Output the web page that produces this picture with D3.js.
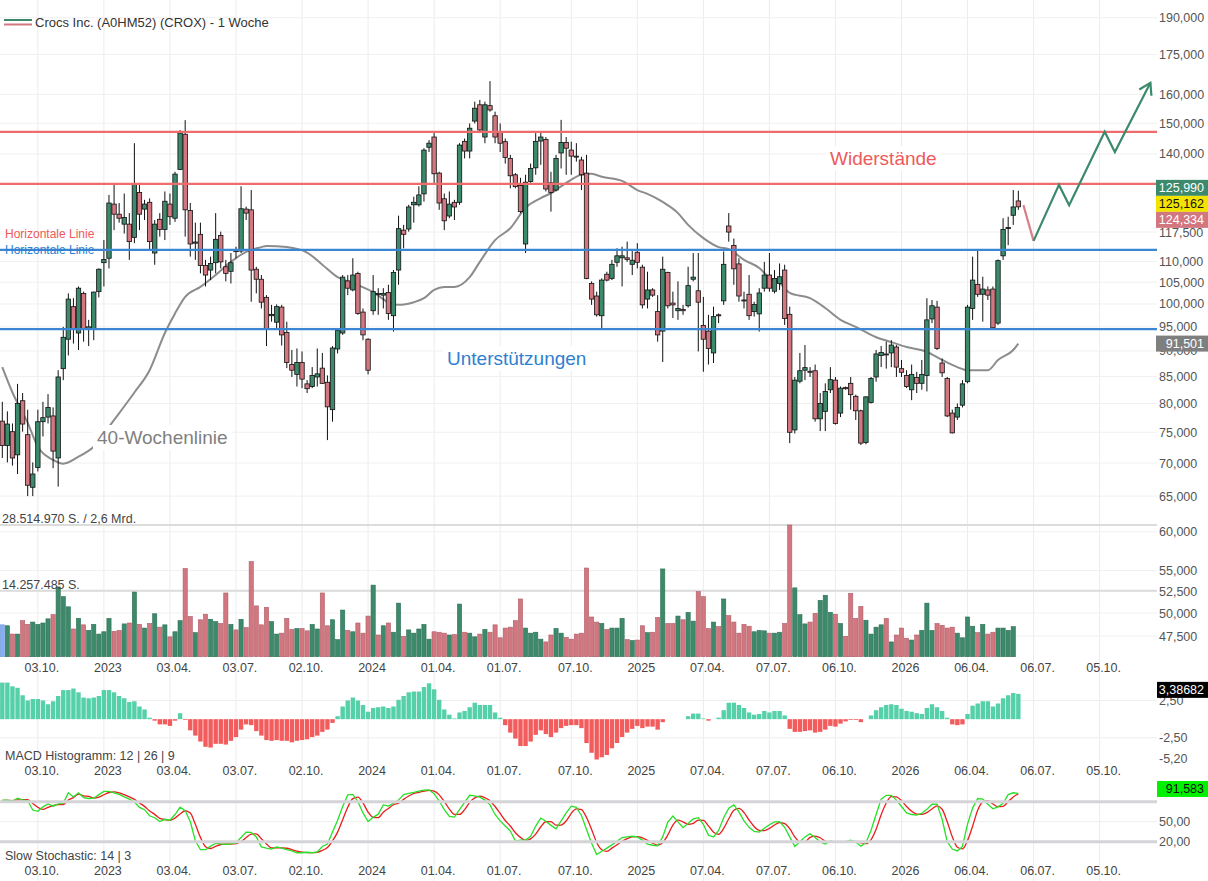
<!DOCTYPE html>
<html>
<head>
<meta charset="utf-8">
<script src="https://cdn.jsdelivr.net/npm/d3@7"></script>
<style>
  body { margin: 0; background: #fff; }
  svg text { font-family: "Liberation Sans", Arial, sans-serif; }
</style>
</head>
<body>
<div id="chart"></div>
<script>
// ---- data (weekly, first candle = week of 15.08.2022) ----
const title = "Crocs Inc. (A0HM52) (CROX) - 1 Woche";
const firstWeek = new Date(2022, 7, 15);

const open = [
  76.9, 72.8, 75.1, 71.3, 80.5, 74.6, 66.3, 69.3, 76.8, 77.6,
  77.8, 70.8, 86.5, 92.4, 99.4, 93.7, 102.4, 94.6, 94.6, 102.8,
  109.7, 110.8, 125.1, 122.3, 119.6, 119.6, 116.1, 128.4, 123.7, 125.6,
  112.1, 120.9, 118.2, 125.1, 121.2, 135.2, 146.3, 123.3, 114.6, 116.9,
  109.0, 107.9, 109.7, 116.6, 108.7, 107.6, 112.7, 112.6, 123.7, 123.5,
  108.1, 105.7, 101.5, 97.4, 96.0, 99.3, 93.8, 87.3, 85.4, 87.7,
  83.6, 83.1, 84.9, 86.6, 83.9, 78.9, 90.4, 93.7, 105.3, 103.2,
  107.1, 98.2, 92.4, 98.5, 102.4, 102.0, 102.6, 97.4, 107.9, 118.0,
  118.3, 124.9, 124.9, 128.0, 142.1, 145.4, 134.1, 126.6, 121.8, 125.6,
  125.6, 144.0, 140.9, 150.7, 156.3, 145.4, 156.0, 152.5, 147.0, 143.9,
  138.6, 133.6, 130.4, 114.4, 131.6, 135.7, 144.1, 144.6, 131.2, 129.1,
  140.3, 143.6, 141.2, 139.3, 138.1, 134.1, 104.7, 101.8, 97.4, 106.9,
  105.9, 109.8, 110.9, 110.9, 109.3, 112.3, 108.6, 101.1, 103.2, 98.3,
  94.1, 107.3, 100.2, 98.5, 98.8, 99.6, 105.7, 103.0, 95.3, 94.1,
  89.6, 97.6, 100.7, 119.1, 114.0, 109.4, 100.9, 102.2, 98.3, 97.8,
  103.6, 106.7, 102.9, 104.7, 107.9, 97.7, 75.4, 84.1, 86.2, 86.0,
  86.1, 77.3, 78.6, 82.5, 84.3, 78.3, 82.9, 83.7, 81.3, 78.7,
  73.3, 80.2, 84.9, 89.1, 89.4, 89.6, 90.8, 86.5, 85.2, 82.5,
  84.8, 83.7, 85.2, 96.7, 99.3, 87.6, 84.6, 78.3, 77.6, 79.7,
  84.0, 99.0, 104.5, 102.2, 103.2, 103.4, 95.8, 111.4, 118.4, 122.0,
  125.99
];
const high = [
  80.3, 78.6, 76.5, 83.6, 81.9, 78.9, 70.1, 78.9, 80.3, 81.7,
  79.3, 86.2, 95.0, 102.4, 101.3, 104.0, 102.8, 96.5, 102.8, 108.3,
  115.4, 127.7, 130.6, 125.4, 128.1, 122.6, 143.4, 131.2, 126.3, 126.7,
  120.7, 122.6, 128.7, 128.1, 134.5, 147.7, 151.0, 125.4, 120.0, 120.0,
  110.4, 111.2, 122.6, 117.6, 110.4, 112.1, 113.7, 130.2, 124.4, 129.1,
  108.7, 106.7, 102.0, 99.8, 99.9, 99.8, 96.1, 90.2, 90.5, 89.9,
  84.3, 86.8, 90.5, 89.6, 85.2, 91.0, 94.6, 106.7, 106.7, 110.8,
  107.5, 99.0, 92.6, 106.7, 103.6, 103.6, 104.4, 107.9, 121.9, 119.4,
  124.9, 127.2, 130.2, 141.8, 144.4, 146.7, 134.5, 128.1, 128.7, 126.3,
  143.4, 144.9, 149.9, 157.4, 158.0, 157.4, 164.8, 153.9, 149.9, 144.9,
  139.7, 134.1, 132.7, 133.6, 137.0, 146.7, 147.0, 145.4, 134.5, 139.7,
  151.1, 145.4, 143.9, 143.4, 139.1, 139.7, 105.2, 102.8, 105.9, 107.5,
  110.4, 113.3, 113.7, 115.0, 112.6, 114.6, 109.2, 107.5, 103.6, 102.0,
  111.2, 107.5, 102.8, 105.2, 99.8, 108.7, 112.1, 112.1, 101.6, 97.6,
  99.4, 97.9, 112.5, 122.6, 115.8, 110.8, 102.8, 106.7, 100.5, 103.6,
  109.9, 112.1, 107.9, 109.5, 109.2, 99.4, 84.9, 89.6, 91.2, 86.8,
  87.3, 81.9, 83.7, 86.8, 84.9, 83.1, 83.1, 84.9, 81.6, 78.9,
  81.3, 84.9, 90.2, 91.0, 91.9, 92.2, 91.2, 88.2, 86.2, 87.3,
  85.9, 88.2, 101.3, 100.9, 100.7, 88.5, 84.9, 78.9, 80.0, 84.3,
  99.8, 111.2, 112.9, 106.3, 104.0, 104.0, 110.5, 121.2, 121.6, 129.1,
  128.9
];
const low = [
  70.8, 70.1, 69.6, 68.3, 75.1, 65.0, 65.0, 68.7, 74.3, 76.5,
  69.2, 66.4, 84.3, 89.1, 91.5, 90.2, 91.9, 91.0, 92.2, 101.5,
  104.0, 108.3, 118.0, 120.0, 117.1, 110.4, 114.6, 118.0, 120.7, 112.9,
  109.2, 116.3, 115.4, 119.4, 120.2, 135.0, 116.3, 111.2, 110.4, 107.1,
  104.0, 105.5, 107.1, 108.3, 105.2, 104.7, 110.8, 112.1, 120.7, 100.5,
  102.4, 99.0, 91.0, 96.1, 94.6, 91.1, 86.6, 84.9, 83.1, 82.8,
  81.9, 82.8, 83.1, 83.6, 73.7, 76.8, 89.5, 93.3, 102.0, 102.9,
  97.6, 92.2, 85.4, 97.6, 97.6, 99.0, 96.5, 94.0, 104.4, 113.3,
  117.6, 120.0, 124.4, 125.8, 140.6, 131.2, 123.5, 118.0, 121.2, 120.7,
  124.9, 138.6, 138.6, 149.9, 146.7, 143.4, 153.9, 143.4, 140.6, 137.0,
  129.6, 129.6, 122.6, 112.1, 131.2, 133.6, 136.6, 128.7, 123.0, 128.7,
  135.5, 133.6, 133.6, 137.6, 129.1, 105.7, 99.8, 97.2, 94.6, 105.2,
  105.5, 108.7, 104.0, 109.9, 106.7, 108.3, 99.0, 99.0, 101.6, 91.9,
  87.8, 99.0, 96.9, 96.5, 97.6, 99.2, 105.2, 89.9, 85.9, 87.3,
  87.6, 95.8, 99.8, 115.0, 104.4, 100.5, 99.0, 96.5, 97.2, 94.0,
  102.8, 102.8, 102.4, 103.2, 95.4, 73.2, 74.8, 83.7, 84.3, 84.9,
  76.8, 75.2, 75.2, 81.9, 76.3, 77.6, 82.5, 78.9, 77.1, 72.9,
  73.0, 80.0, 84.0, 86.8, 86.5, 86.8, 84.9, 84.9, 82.8, 80.6,
  81.9, 82.5, 82.2, 95.8, 90.2, 84.9, 77.6, 74.8, 77.1, 79.3,
  83.7, 96.5, 101.6, 96.1, 100.9, 94.6, 95.4, 110.4, 114.1, 119.4,
  123.5
];
const close = [
  72.8, 76.4, 70.8, 80.0, 76.4, 66.6, 68.3, 76.8, 77.5, 79.3,
  71.9, 84.9, 92.8, 101.1, 94.6, 103.6, 94.6, 95.0, 102.7, 108.1,
  110.5, 125.4, 122.3, 121.2, 121.4, 115.0, 131.0, 122.3, 125.1, 115.0,
  119.6, 118.2, 125.9, 121.6, 133.8, 146.7, 123.5, 114.4, 114.9, 109.0,
  106.7, 109.5, 115.6, 109.9, 107.1, 109.7, 112.5, 123.8, 122.6, 107.9,
  105.7, 100.4, 94.6, 97.7, 99.4, 93.3, 87.7, 86.2, 87.7, 84.5,
  82.7, 85.2, 85.5, 83.7, 79.4, 90.6, 94.2, 106.2, 103.6, 106.7,
  97.9, 93.3, 86.2, 102.8, 102.2, 102.4, 97.9, 107.3, 118.4, 116.9,
  124.3, 125.6, 127.7, 141.2, 143.4, 133.9, 125.4, 120.5, 125.1, 124.3,
  142.8, 140.9, 148.3, 155.1, 147.7, 156.3, 154.5, 145.4, 143.4, 138.9,
  133.3, 130.1, 123.0, 131.4, 135.5, 144.0, 145.4, 129.4, 128.4, 138.6,
  143.6, 141.8, 139.3, 139.1, 133.6, 105.9, 101.1, 97.6, 105.5, 105.5,
  109.3, 111.4, 111.4, 110.5, 110.3, 109.8, 99.8, 103.2, 102.0, 93.3,
  108.1, 99.6, 99.8, 99.0, 98.5, 104.2, 106.2, 100.4, 92.4, 90.5,
  97.2, 97.4, 109.3, 117.5, 108.2, 101.8, 100.7, 97.4, 99.9, 102.5,
  106.7, 103.6, 105.9, 106.3, 96.8, 75.0, 84.3, 86.1, 86.7, 85.8,
  77.3, 80.0, 82.2, 84.4, 76.5, 82.8, 82.7, 81.6, 78.7, 73.2,
  81.2, 84.6, 89.4, 89.7, 89.2, 91.2, 86.8, 85.8, 83.1, 85.4,
  83.7, 85.4, 96.5, 99.6, 90.5, 85.7, 77.8, 74.9, 79.3, 83.6,
  99.3, 105.5, 102.2, 103.4, 102.0, 94.8, 110.2, 118.2, 118.7, 124.3,
  124.33
];
// volume in million shares
const volume = [
  6.9, 6.7, 4.9, 4.9, 7.8, 7.0, 7.5, 7.0, 7.3, 8.2,
  9.1, 15.1, 13.0, 10.8, 6.0, 8.3, 6.9, 5.7, 7.0, 4.9,
  5.4, 8.3, 5.5, 5.7, 7.1, 7.3, 14.0, 7.0, 6.2, 7.2,
  9.3, 6.4, 6.9, 4.3, 5.4, 7.8, 19.1, 8.7, 5.2, 8.0,
  9.2, 8.1, 7.6, 7.2, 13.8, 7.0, 5.8, 8.1, 6.3, 20.6,
  11.0, 6.9, 10.7, 7.6, 4.9, 5.1, 8.3, 5.9, 6.1, 6.1,
  5.6, 7.0, 6.0, 13.8, 6.7, 8.0, 3.7, 10.1, 5.7, 5.4,
  7.3, 5.1, 8.8, 15.5, 4.7, 6.7, 7.3, 5.3, 11.6, 4.4,
  5.8, 5.1, 6.0, 7.0, 3.8, 5.4, 5.3, 5.1, 4.7, 4.8,
  11.4, 5.3, 5.1, 4.3, 4.9, 5.9, 5.3, 6.9, 4.1, 6.2,
  6.4, 7.8, 12.5, 6.2, 5.1, 5.3, 3.8, 3.2, 4.7, 6.1,
  5.1, 4.2, 3.8, 4.9, 5.1, 19.2, 8.6, 7.5, 7.2, 5.9,
  6.2, 6.2, 8.3, 3.7, 3.5, 3.6, 6.7, 5.2, 5.3, 8.5,
  19.0, 7.2, 7.2, 8.8, 8.0, 9.6, 7.7, 14.1, 13.0, 6.1,
  7.5, 6.5, 12.5, 8.9, 7.5, 5.1, 7.0, 6.6, 5.4, 5.7,
  5.6, 5.1, 5.1, 5.3, 7.2, 28.51, 14.9, 9.1, 7.1, 7.5,
  9.4, 12.2, 13.3, 9.6, 9.2, 7.2, 4.4, 13.7, 8.3, 10.9,
  7.9, 4.9, 6.4, 6.9, 8.3, 3.2, 4.7, 6.2, 4.0, 3.6,
  4.7, 5.7, 11.6, 5.7, 7.2, 6.8, 6.2, 6.4, 5.1, 4.1,
  8.6, 6.6, 5.2, 7.0, 4.9, 5.3, 6.2, 6.2, 5.7, 6.5
];
const volumeMaxLabel = "28.514.970 S. / 2,6 Mrd.";
const volumeHalfLabel = "14.257.485 S.";
const volumeMax = 28.51497;

// 40-week line, read at these weeks
const smaWeek = [0, 2, 5, 7, 10, 12, 15, 18, 22, 26, 29, 32, 34, 36, 39, 42, 45, 48, 51, 52,
  56, 60, 63, 66, 69, 73, 76, 78, 81, 83, 85, 87, 89, 92, 94, 97, 100, 103, 106, 108,
  111, 114, 116, 118, 122, 125, 127, 130, 133, 135, 138, 141, 143, 146, 149, 151, 153, 155, 159, 162,
  165, 168, 172, 175, 178, 182, 185, 188, 190, 194, 196, 199, 200];
const smaValue = [86.8, 82.0, 76.6, 72.6, 70.5, 69.9, 71.0, 72.6, 77.1, 82.0, 86.2, 93.7, 97.9, 101.6, 103.9, 106.7, 109.9, 112.4, 113.6, 113.9,
  113.6, 112.2, 109.2, 106.2, 104.8, 102.7, 100.4, 99.8, 100.4, 101.3, 103.2, 103.9, 103.9, 106.2, 109.9, 115.4, 118.5, 124.1, 126.8, 128.2,
  131.2, 133.6, 133.9, 133.0, 131.8, 129.1, 128.0, 125.7, 122.6, 119.4, 115.9, 113.6, 113.1, 110.4, 108.4, 106.0, 104.8, 102.5, 101.3, 99.1,
  96.5, 95.0, 92.8, 91.8, 90.8, 89.8, 88.2, 86.8, 86.2, 86.2, 88.2, 90.2, 91.5];

const macdHist = [
  4.9, 4.9, 4.4, 4.2, 3.2, 2.5, 2.7, 2.7, 2.5, 2.0,
  2.4, 3.1, 3.9, 3.9, 4.1, 3.6, 2.9, 2.8, 2.9, 3.1,
  3.9, 3.9, 3.6, 3.1, 2.8, 2.3, 2.4, 1.7, 1.3, 0.2,
  -0.2, -0.7, -0.7, -0.9, -0.2, 0.8, -0.1, -1.5, -2.2, -3.0,
  -3.7, -3.8, -3.3, -3.3, -3.4, -2.9, -2.4, -1.4, -0.7, -0.8,
  -1.6, -2.2, -2.8, -2.9, -2.8, -2.9, -2.9, -3.1, -2.9, -2.8,
  -2.7, -2.4, -2.2, -1.7, -1.4, -0.5, 0.4, 1.7, 2.5, 2.9,
  2.5, 1.9, 1.0, 1.5, 1.6, 1.7, 1.5, 1.7, 2.6, 3.1,
  3.6, 3.7, 3.7, 4.3, 4.8, 4.0, 2.6, 1.3, 0.6, 0.1,
  0.9, 1.1, 1.6, 2.2, 1.9, 1.9, 1.9, 0.9, 0.2, -0.8,
  -1.8, -2.6, -3.6, -3.6, -3.0, -2.1, -1.5, -2.0, -2.4, -1.8,
  -1.2, -0.9, -0.8, -0.8, -1.2, -3.2, -4.5, -5.4, -5.1, -4.8,
  -3.9, -3.2, -2.4, -1.8, -1.3, -0.9, -1.2, -1.0, -1.0, -1.4,
  -0.4, 0, 0, 0, 0, 0.4, 0.75, 0.75, 0.1, -0.2,
  0, 0.2, 1.2, 2.2, 2.2, 1.9, 1.5, 0.9, 0.6, 0.7,
  1.1, 0.9, 1.1, 1.1, 0.5, -1.3, -1.7, -1.7, -1.6, -1.5,
  -1.8, -1.7, -1.4, -0.9, -1.0, -0.6, -0.3, -0.1, -0.1, -0.4,
  0, 0.5, 1.2, 1.6, 1.9, 2.0, 1.9, 1.4, 1.1, 1.0,
  0.8, 0.7, 1.5, 2.0, 1.6, 1.1, 0.2, -0.7, -0.8, -0.7,
  0.7, 1.8, 2.1, 2.4, 2.4, 1.7, 2.1, 2.8, 3.2, 3.5,
  3.39
];

const stochK = [
  81.9, 82.4, 80.5, 85.3, 82.9, 81.4, 67.5, 65.6, 72.3, 76.6,
  73.3, 76.6, 77.6, 93.4, 87.2, 93.4, 86.2, 84.8, 85.3, 90.6,
  95.4, 95.4, 93.4, 91.0, 87.2, 83.8, 79.5, 71.4, 68.0, 58.9,
  56.0, 50.2, 53.6, 52.2, 60.8, 71.8, 66.6, 50.2, 21.4, 8.0,
  8.0, 13.3, 17.6, 16.6, 16.2, 16.6, 18.1, 26.2, 34.4, 33.9,
  27.2, 12.3, 10.4, 9.0, 12.3, 10.4, 8.0, 6.1, 3.4, 3.4,
  4.2, 3.4, 4.6, 12.8, 16.6, 34.4, 52.2, 72.8, 90.1, 91.0,
  80.0, 63.2, 50.2, 56.5, 61.3, 75.2, 73.3, 77.6, 82.4, 90.6,
  92.5, 93.9, 95.8, 97.3, 97.8, 92.0, 81.0, 68.0, 57.9, 57.0,
  68.0, 79.0, 89.6, 88.6, 86.7, 82.4, 75.2, 60.8, 51.2, 43.5,
  36.0, 21.0, 22.4, 22.4, 28.2, 43.5, 55.5, 50.7, 44.5, 39.2,
  51.2, 63.2, 73.3, 71.4, 59.4, 38.2, 17.6, 0.8, 5.6, 10.4,
  15.2, 20.5, 26.2, 27.2, 28.2, 27.2, 22.4, 16.2, 14.7, 13.8,
  27.2, 49.3, 58.4, 49.8, 41.1, 47.4, 54.1, 56.0, 45.9, 29.6,
  27.2, 36.8, 56.0, 70.4, 75.2, 64.6, 51.2, 41.6, 35.4, 34.4,
  40.2, 45.4, 49.8, 50.2, 41.6, 27.2, 12.8, 20.0, 27.2, 32.0,
  26.2, 19.5, 16.6, 21.0, 19.0, 19.5, 20.0, 22.4, 19.5, 13.3,
  18.6, 36.8, 60.8, 83.8, 89.6, 89.6, 82.4, 72.8, 63.2, 60.8,
  59.8, 62.7, 68.5, 76.2, 76.2, 53.6, 20.0, 9.0, 6.1, 12.8,
  46.4, 70.4, 84.8, 83.8, 76.2, 69.4, 72.3, 77.6, 90.6, 93.4,
  92.5
];
const stochD = [
  82.0, 82.0, 81.6, 82.7, 82.9, 83.2, 77.3, 71.5, 68.5, 71.5,
  74.1, 75.5, 75.8, 82.5, 86.1, 91.3, 88.9, 88.1, 85.4, 86.9,
  90.4, 93.8, 94.7, 93.3, 90.5, 87.3, 83.5, 78.2, 73.0, 66.1,
  61.0, 55.0, 53.3, 52.0, 55.5, 61.6, 66.4, 62.9, 46.1, 26.5,
  12.5, 9.8, 13.0, 15.8, 16.8, 16.5, 17.0, 20.3, 26.2, 31.5,
  31.8, 24.5, 16.6, 10.6, 10.6, 10.6, 10.2, 8.2, 5.8, 4.3,
  3.7, 3.7, 4.1, 6.9, 11.3, 21.3, 34.4, 53.1, 71.7, 84.6,
  87.0, 78.1, 64.5, 56.6, 56.0, 64.3, 69.9, 75.4, 77.8, 83.5,
  88.5, 92.3, 94.1, 95.7, 97.0, 95.7, 90.3, 80.3, 69.0, 61.0,
  61.0, 68.0, 78.9, 85.7, 88.3, 85.9, 81.4, 72.8, 62.4, 51.8,
  43.6, 33.5, 26.5, 21.9, 24.3, 31.4, 42.4, 49.9, 50.2, 44.8,
  45.0, 51.2, 62.6, 69.3, 68.0, 56.3, 38.4, 18.9, 8.0, 5.6,
  10.4, 15.4, 20.6, 24.6, 27.2, 27.5, 25.9, 21.9, 17.8, 14.9,
  18.6, 30.1, 45.0, 52.5, 49.8, 46.1, 47.5, 52.5, 52.0, 43.8,
  34.2, 31.2, 40.0, 54.4, 67.2, 70.1, 63.7, 52.5, 42.7, 37.1,
  36.7, 40.0, 45.1, 48.5, 47.2, 39.7, 27.2, 20.0, 20.0, 26.4,
  28.5, 25.9, 20.8, 19.0, 18.9, 19.8, 19.5, 20.6, 20.6, 18.4,
  17.1, 22.9, 38.7, 60.5, 78.1, 87.7, 87.2, 81.6, 72.8, 65.6,
  61.3, 61.1, 63.7, 69.1, 73.6, 68.7, 49.9, 27.5, 11.7, 9.3,
  21.8, 43.2, 67.2, 79.7, 81.6, 76.5, 72.6, 73.1, 80.2, 87.2,
  91.6
];

const tickDates = ["2022-10-03", "2023-01-02", "2023-04-03", "2023-07-03", "2023-10-02", "2024-01-01",
  "2024-04-01", "2024-07-01", "2024-10-07", "2025-01-06", "2025-04-07", "2025-07-07", "2025-10-06",
  "2026-01-05", "2026-04-06", "2026-07-06", "2026-10-05"];
const tickLabels = ["03.10.", "2023", "03.04.", "03.07.", "02.10.", "2024", "01.04.", "01.07.", "07.10.",
  "2025", "07.04.", "07.07.", "06.10.", "2026", "06.04.", "06.07.", "05.10."];
const priceTicks = [190, 175, 160, 150, 140, 117.5, 110, 105, 100, 95, 90, 85, 80, 75, 70, 65, 60, 55, 52.5, 50, 47.5];
const macdTicks = [2.5, -2.5, -5.2];
const stochTicks = [50, 20];

const resistance = [147.1, 130.9];
const support = [112.9, 94.5];
// projected path (week index, price)
const projWeek = [201, 203, 208, 210, 217, 219, 226];
const projValue = [124.8, 115.2, 130.6, 124.8, 147.1, 140.6, 164.2];

const lastTags = [125.990, 125.162, 124.334];
const smaTag = 91.501;
const macdTag = 3.38682;
const stochTag = 91.583;

// ---- drawing ----
const width = 1208, height = 881;
const GREEN = "#3c8a6b", RED = "#d2767f";

const svg = d3.select("#chart").append("svg")
    .attr("width", width)
    .attr("height", height)
    .style("background", "#fff");

const de = d3.formatLocale({decimal: ",", thousands: ".", grouping: [3], currency: ["", " €"], minus: "-"});
const fmt3 = de.format(".3f"), fmt2 = de.format(".2f"), fmt5 = de.format(".5f");
const parseDay = d3.timeParse("%Y-%m-%d");
const ticks = tickDates.map(parseDay);

const weekDate = i => d3.timeDay.offset(firstWeek, 7 * i);
const x = d3.scaleTime().domain([firstWeek, weekDate(227)]).range([2.3, 1155.5]);
const xi = i => x(weekDate(i));

const y = d3.scaleLog().domain([47.5, 190]).range([636, 17.7]);
const yVol = d3.scaleLinear().domain([0, volumeMax]).range([656.7, 525]);
const yMacd = d3.scaleLinear().domain([-5.2, 2.5]).range([758, 700.5]);
const yStoch = d3.scaleLinear().domain([20, 80]).range([841.7, 801.7]);

const plotRight = 1157;

// grid
svg.append("g").selectAll("line").data(ticks).join("line")
    .attr("x1", d => x(d)).attr("x2", d => x(d))
    .attr("y1", 0).attr("y2", height)
    .attr("stroke", "#ececec");
svg.append("g").selectAll("line").data(priceTicks).join("line")
    .attr("x1", 0).attr("x2", plotRight)
    .attr("y1", d => y(d)).attr("y2", d => y(d))
    .attr("stroke", "#f0f0f0");
svg.append("g").selectAll("line").data([2.5, -2.5]).join("line")
    .attr("x1", 0).attr("x2", plotRight)
    .attr("y1", d => yMacd(d)).attr("y2", d => yMacd(d))
    .attr("stroke", "#eeeeee");
svg.append("line")
    .attr("x1", 0).attr("x2", plotRight)
    .attr("y1", yStoch(50)).attr("y2", yStoch(50))
    .attr("stroke", "#eeeeee");

// volume separators
svg.append("g").selectAll("line").data([volumeMax, volumeMax / 2]).join("line")
    .attr("x1", 0).attr("x2", plotRight)
    .attr("y1", d => yVol(d)).attr("y2", d => yVol(d))
    .attr("stroke", "#dcdcdc").attr("stroke-width", 2);

// volume bars
svg.append("g").selectAll("rect").data(volume).join("rect")
    .attr("x", (d, i) => xi(i) - 2.1)
    .attr("width", 4.2)
    .attr("y", d => yVol(d))
    .attr("height", d => yVol(0) - yVol(d))
    .attr("fill", (d, i) => i === 0 ? "#86aef0" : (close[i] >= open[i] ? GREEN : RED))
    .attr("stroke", (d, i) => i === 0 ? "#6f98dc" : (close[i] >= open[i] ? "#2f6f55" : "#b05e67"))
    .attr("stroke-width", 0.6);

svg.append("text").attr("x", 2).attr("y", yVol(volumeMax) - 2.5)
    .attr("font-size", 12.5).attr("fill", "#444").text(volumeMaxLabel);
svg.append("text").attr("x", 2).attr("y", yVol(volumeMax / 2) - 2)
    .attr("font-size", 12.5).attr("fill", "#444").text(volumeHalfLabel);

// 40-week line
const smaLine = d3.line()
    .x((d, i) => xi(smaWeek[i]))
    .y(d => y(d))
    .curve(d3.curveMonotoneX);
svg.append("path").datum(smaValue)
    .attr("d", smaLine)
    .attr("fill", "none").attr("stroke", "#8c8c8c").attr("stroke-width", 2);

// candles
const candles = svg.append("g").selectAll("g").data(close).join("g");
candles.append("line")
    .attr("x1", (d, i) => xi(i)).attr("x2", (d, i) => xi(i))
    .attr("y1", (d, i) => y(high[i])).attr("y2", (d, i) => y(low[i]))
    .attr("stroke", "#111").attr("stroke-width", 1);
candles.append("rect")
    .attr("x", (d, i) => xi(i) - 2.2)
    .attr("width", 4.4)
    .attr("y", (d, i) => Math.min(y(open[i]), y(d)))
    .attr("height", (d, i) => Math.max(1, Math.abs(y(open[i]) - y(d))))
    .attr("fill", (d, i) => d >= open[i] ? GREEN : RED)
    .attr("stroke", "#111").attr("stroke-width", 0.8);

// horizontal lines
svg.append("g").selectAll("line").data(resistance).join("line")
    .attr("x1", 0).attr("x2", plotRight)
    .attr("y1", d => y(d)).attr("y2", d => y(d))
    .attr("stroke", "#f06b6b").attr("stroke-width", 2.2);
svg.append("g").selectAll("line").data(support).join("line")
    .attr("x1", 0).attr("x2", plotRight)
    .attr("y1", d => y(d)).attr("y2", d => y(d))
    .attr("stroke", "#3a86d2").attr("stroke-width", 2.2);

svg.append("text").attr("x", 5).attr("y", y(support[0]) - 12)
    .attr("font-size", 12).attr("fill", "#ee5a5a").text("Horizontale Linie");
svg.append("text").attr("x", 5).attr("y", y(support[0]) + 4)
    .attr("font-size", 12).attr("fill", "#2f7fd0").text("Horizontale Linie");

// projection
svg.append("path").datum(projValue.slice(0, 2))
    .attr("d", d3.line().x((d, i) => xi(projWeek[i])).y(d => y(d)))
    .attr("fill", "none").attr("stroke", "#d8808a").attr("stroke-width", 2.2);
svg.append("path").datum(projValue.slice(1))
    .attr("d", d3.line().x((d, i) => xi(projWeek[i + 1])).y(d => y(d)))
    .attr("fill", "none").attr("stroke", "#3c8a6b").attr("stroke-width", 2.2);
{
  const n = projWeek.length;
  const tx = xi(projWeek[n - 1]), ty = y(projValue[n - 1]);
  const px = xi(projWeek[n - 2]), py = y(projValue[n - 2]);
  const ang = Math.atan2(ty - py, tx - px);
  const L = 13, spread = 0.55;
  const a1 = [tx - L * Math.cos(ang - spread), ty - L * Math.sin(ang - spread)];
  const a2 = [tx - L * Math.cos(ang + spread), ty - L * Math.sin(ang + spread)];
  svg.append("path")
      .attr("d", `M${a1[0]},${a1[1]}L${tx},${ty}L${a2[0]},${a2[1]}`)
      .attr("fill", "none").attr("stroke", "#3c8a6b").attr("stroke-width", 2.2)
      .attr("stroke-linejoin", "miter");
}

// annotation labels with white background
function label(xp, yp, text, color) {
  const t = svg.append("text").attr("x", xp).attr("y", yp)
      .attr("font-size", 19).attr("fill", color).text(text);
  const b = t.node().getBBox();
  svg.insert("rect", () => t.node())
      .attr("x", b.x - 4).attr("y", b.y - 2).attr("width", b.width + 8).attr("height", b.height + 4)
      .attr("fill", "#fff");
}
label(97, 444, "40-Wochenlinie", "#808080");
label(447, 365, "Unterstützungen", "#2f80d0");
label(830, 165, "Widerstände", "#ee5a5a");

// MACD histogram
svg.append("g").selectAll("rect").data(macdHist).join("rect")
    .attr("x", (d, i) => xi(i) - 2.2)
    .attr("width", 4.4)
    .attr("y", d => Math.min(yMacd(d), yMacd(0)))
    .attr("height", d => Math.abs(yMacd(d) - yMacd(0)))
    .attr("fill", d => d >= 0 ? "#55d0a9" : "#f25c5c");
svg.append("text").attr("x", 5).attr("y", 760)
    .attr("font-size", 12.5).attr("fill", "#444").text("MACD Histogramm: 12 | 26 | 9");

// stochastic
svg.append("path").datum(stochD)
    .attr("d", d3.line().x((d, i) => xi(i)).y(d => yStoch(d)).curve(d3.curveMonotoneX))
    .attr("fill", "none").attr("stroke", "#ea1c1c").attr("stroke-width", 1.3);
svg.append("path").datum(stochK)
    .attr("d", d3.line().x((d, i) => xi(i)).y(d => yStoch(d)))
    .attr("fill", "none").attr("stroke", "#27e027").attr("stroke-width", 1.3);
svg.append("g").selectAll("line").data([80, 20]).join("line")
    .attr("x1", 0).attr("x2", plotRight)
    .attr("y1", d => yStoch(d)).attr("y2", d => yStoch(d))
    .attr("stroke", "#d4d4d8").attr("stroke-width", 3);
svg.append("text").attr("x", 5).attr("y", 860)
    .attr("font-size", 12.5).attr("fill", "#444").text("Slow Stochastic: 14 | 3");

// x labels (three rows)
[671.5, 774.5, 875].forEach(base => {
  svg.append("g").selectAll("text").data(ticks).join("text")
      .attr("x", d => x(d) + 4).attr("y", base)
      .attr("text-anchor", "middle")
      .attr("font-size", 12.5).attr("fill", "#444")
      .text((d, i) => tickLabels[i]);
});

// right axes
function rightAxis(scale, values, fmt) {
  svg.append("g").attr("transform", "translate(1159,0)")
      .call(d3.axisRight(scale).tickValues(values).tickFormat(fmt).tickSize(0).tickPadding(0))
      .call(g => g.select(".domain").remove())
      .call(g => g.selectAll("text")
          .attr("fill", "#555").attr("font-size", 12.5)
          .attr("font-family", "Liberation Sans, Arial, sans-serif"));
}
rightAxis(y, priceTicks, fmt3);
rightAxis(yMacd, macdTicks, fmt2);
rightAxis(yStoch, stochTicks, fmt2);

// value tags
function tag(yc, text, bg, fg, x0) {
  svg.append("rect").attr("x", x0).attr("y", yc - 8).attr("width", width - x0).attr("height", 16)
      .attr("fill", bg);
  svg.append("text").attr("x", 1204).attr("y", yc + 4.5).attr("text-anchor", "end")
      .attr("font-size", 12.5).attr("fill", fg).text(text);
}
const midTag = y(lastTags[1]);
tag(midTag - 16, fmt3(lastTags[0]), "#3c8a6b", "#fff", 1156);
tag(midTag, fmt3(lastTags[1]), "#f2e300", "#111", 1156);
tag(midTag + 16, fmt3(lastTags[2]), "#d2767f", "#fff", 1156);
tag(y(smaTag), fmt3(smaTag), "#7f7f7f", "#fff", 1156);
tag(yMacd(macdTag) - 4, fmt5(macdTag), "#000", "#fff", 1157);
tag(yStoch(stochTag) - 5, fmt3(stochTag), "#00f000", "#111", 1157);

// legend
svg.append("line").attr("x1", 4).attr("x2", 32).attr("y1", 20).attr("y2", 20)
    .attr("stroke", GREEN).attr("stroke-width", 2);
svg.append("line").attr("x1", 4).attr("x2", 32).attr("y1", 24.5).attr("y2", 24.5)
    .attr("stroke", RED).attr("stroke-width", 2);
svg.append("text").attr("x", 35).attr("y", 27)
    .attr("font-size", 13).attr("fill", "#333").text(title);
</script>
</body>
</html>
